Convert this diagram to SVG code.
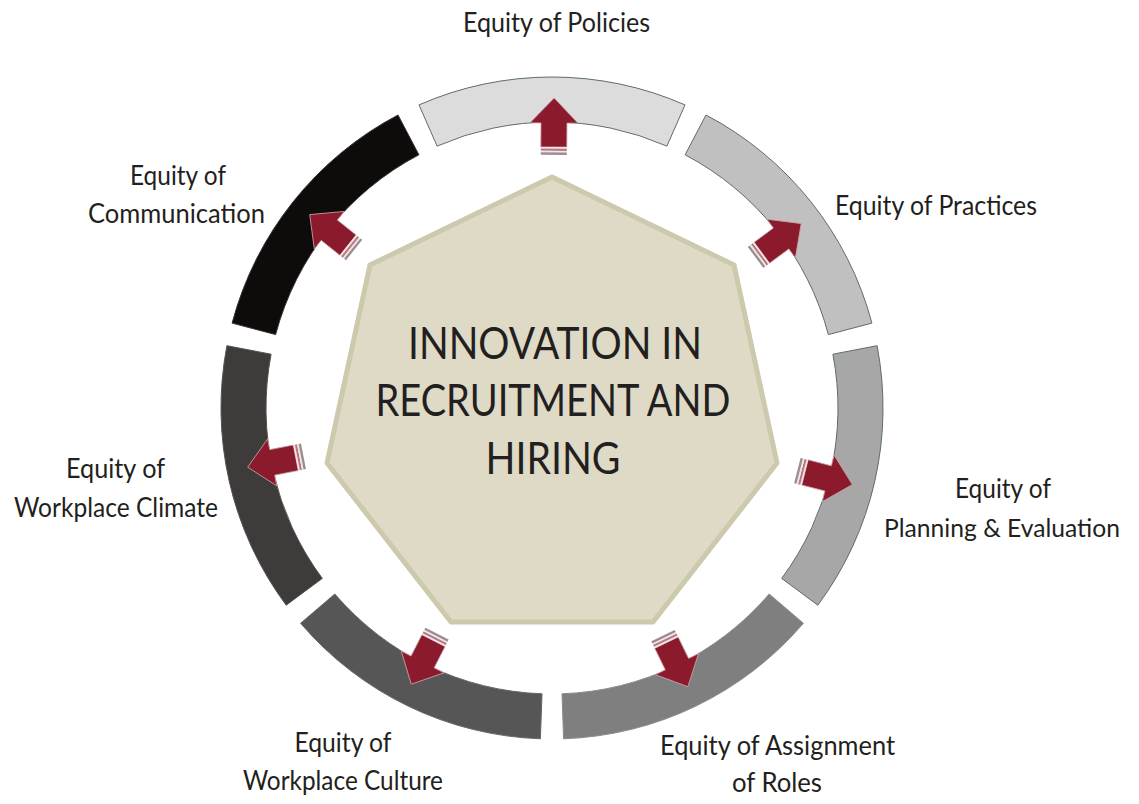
<svg xmlns="http://www.w3.org/2000/svg" width="1139" height="804" viewBox="0 0 1139 804">
<defs>
<style>
.lbl{font-family:"Lato","Open Sans","Noto Sans",sans-serif;font-size:27px;fill:#231f20;text-anchor:middle}
.ctr{font-family:"Lato","Open Sans","Noto Sans",sans-serif;font-size:45px;fill:#231f20;text-anchor:middle}
.seg{stroke-width:1}
.ah{fill:#8b1a2c;stroke:#c9a3a8;stroke-width:0.8}
</style>
<g id="arrow">
<polygon class="ah" points="0,-25 24,0 13,0 13,24 -13,24 -13,0 -24,0"/>
<rect x="-13" y="24" width="26" height="1.6" fill="#f2e6e8"/>
<rect x="-13" y="25.6" width="26" height="2.2" fill="#b77a82"/>
<rect x="-13" y="27.8" width="26" height="1.6" fill="#f2e6e8"/>
<rect x="-13" y="29.4" width="26" height="2.4" fill="#9b8d90"/>
</g>
</defs>
<rect width="1139" height="804" fill="#ffffff"/>

<g id="center">
<polygon points="552,177 734,265 777,463 653,622 451,622 327,463 370,265" fill="#dedac6" stroke="#cdc9ad" stroke-width="5" stroke-linejoin="round"/>
<text class="ctr" x="555" y="359" textLength="294" lengthAdjust="spacingAndGlyphs">INNOVATION IN</text>
<text class="ctr" x="553" y="416" textLength="355" lengthAdjust="spacingAndGlyphs">RECRUITMENT AND</text>
<text class="ctr" x="553" y="474" textLength="135" lengthAdjust="spacingAndGlyphs">HIRING</text>
</g>

<g id="policies">
<path class="seg" d="M419.0,104.9 A331,331 0 0 1 685.0,104.9 L666.9,146.1 A286,286 0 0 0 437.1,146.1 Z" fill="#dcdcdc" stroke="#5b6b73"/>
<text class="lbl" x="556.5" y="32" textLength="187" lengthAdjust="spacingAndGlyphs">Equity of Policies</text>
</g>

<g id="practices">
<path class="seg" d="M706.0,115.0 A331,331 0 0 1 871.9,323.1 L828.4,334.6 A286,286 0 0 0 685.1,154.8 Z" fill="#c0c0c0" stroke="#5b6b73"/>
<text class="lbl" x="936" y="215" textLength="202" lengthAdjust="spacingAndGlyphs">Equity of Practices</text>
</g>

<g id="planning">
<path class="seg" d="M877.1,345.7 A331,331 0 0 1 817.8,605.2 L781.7,578.4 A286,286 0 0 0 832.9,354.2 Z" fill="#a7a7a7" stroke="#5b6b73"/>
<text class="lbl" x="1003" y="498" textLength="96" lengthAdjust="spacingAndGlyphs">Equity of</text>
<text class="lbl" x="1002" y="537" font-size="25" textLength="236" lengthAdjust="spacingAndGlyphs" style="font-size:25px">Planning &amp; Evaluation</text>
</g>

<g id="assignment">
<path class="seg" d="M803.4,623.3 A331,331 0 0 1 563.6,738.8 L562.0,693.8 A286,286 0 0 0 769.2,594.0 Z" fill="#807f7f" stroke="#8a8a8a"/>
<text class="lbl" x="777.5" y="755" textLength="235" lengthAdjust="spacingAndGlyphs">Equity of Assignment</text>
<text class="lbl" x="777" y="792" textLength="90" lengthAdjust="spacingAndGlyphs">of Roles</text>
</g>

<g id="culture">
<path class="seg" d="M540.4,738.8 A331,331 0 0 1 300.6,623.3 L334.8,594.0 A286,286 0 0 0 542.0,693.8 Z" fill="#575656" stroke="#6a6464"/>
<text class="lbl" x="343" y="752" textLength="97" lengthAdjust="spacingAndGlyphs">Equity of</text>
<text class="lbl" x="343" y="790" textLength="200" lengthAdjust="spacingAndGlyphs">Workplace Culture</text>
</g>

<g id="climate">
<path class="seg" d="M286.2,605.2 A331,331 0 0 1 226.9,345.7 L271.1,354.2 A286,286 0 0 0 322.3,578.4 Z" fill="#3e3b3b" stroke="#5a5050"/>
<text class="lbl" x="115.5" y="478" textLength="99" lengthAdjust="spacingAndGlyphs">Equity of</text>
<text class="lbl" x="116" y="517" textLength="204" lengthAdjust="spacingAndGlyphs">Workplace Climate</text>
</g>

<g id="communication">
<path class="seg" d="M232.1,323.1 A331,331 0 0 1 398.0,115.0 L418.9,154.8 A286,286 0 0 0 275.6,334.6 Z" fill="#0e0b0b" stroke="#3a3030"/>
<text class="lbl" x="178" y="185" textLength="96" lengthAdjust="spacingAndGlyphs">Equity of</text>
<text class="lbl" x="176.5" y="223" textLength="177" lengthAdjust="spacingAndGlyphs">Communication</text>
</g>

<g id="connectors">
<use href="#arrow" transform="translate(552,408) rotate(0.4) translate(0,-285)"/>
<use href="#arrow" transform="translate(552,408) rotate(53.5) translate(0,-285)"/>
<use href="#arrow" transform="translate(552,408) rotate(104.3) translate(0,-285)"/>
<use href="#arrow" transform="translate(552,408) rotate(154) translate(0,-285)"/>
<use href="#arrow" transform="translate(552,408) rotate(207) translate(0,-285)"/>
<use href="#arrow" transform="translate(552,408) rotate(259) translate(0,-285)"/>
<use href="#arrow" transform="translate(552,408) rotate(308.6) translate(0,-285)"/>
</g>
</svg>
